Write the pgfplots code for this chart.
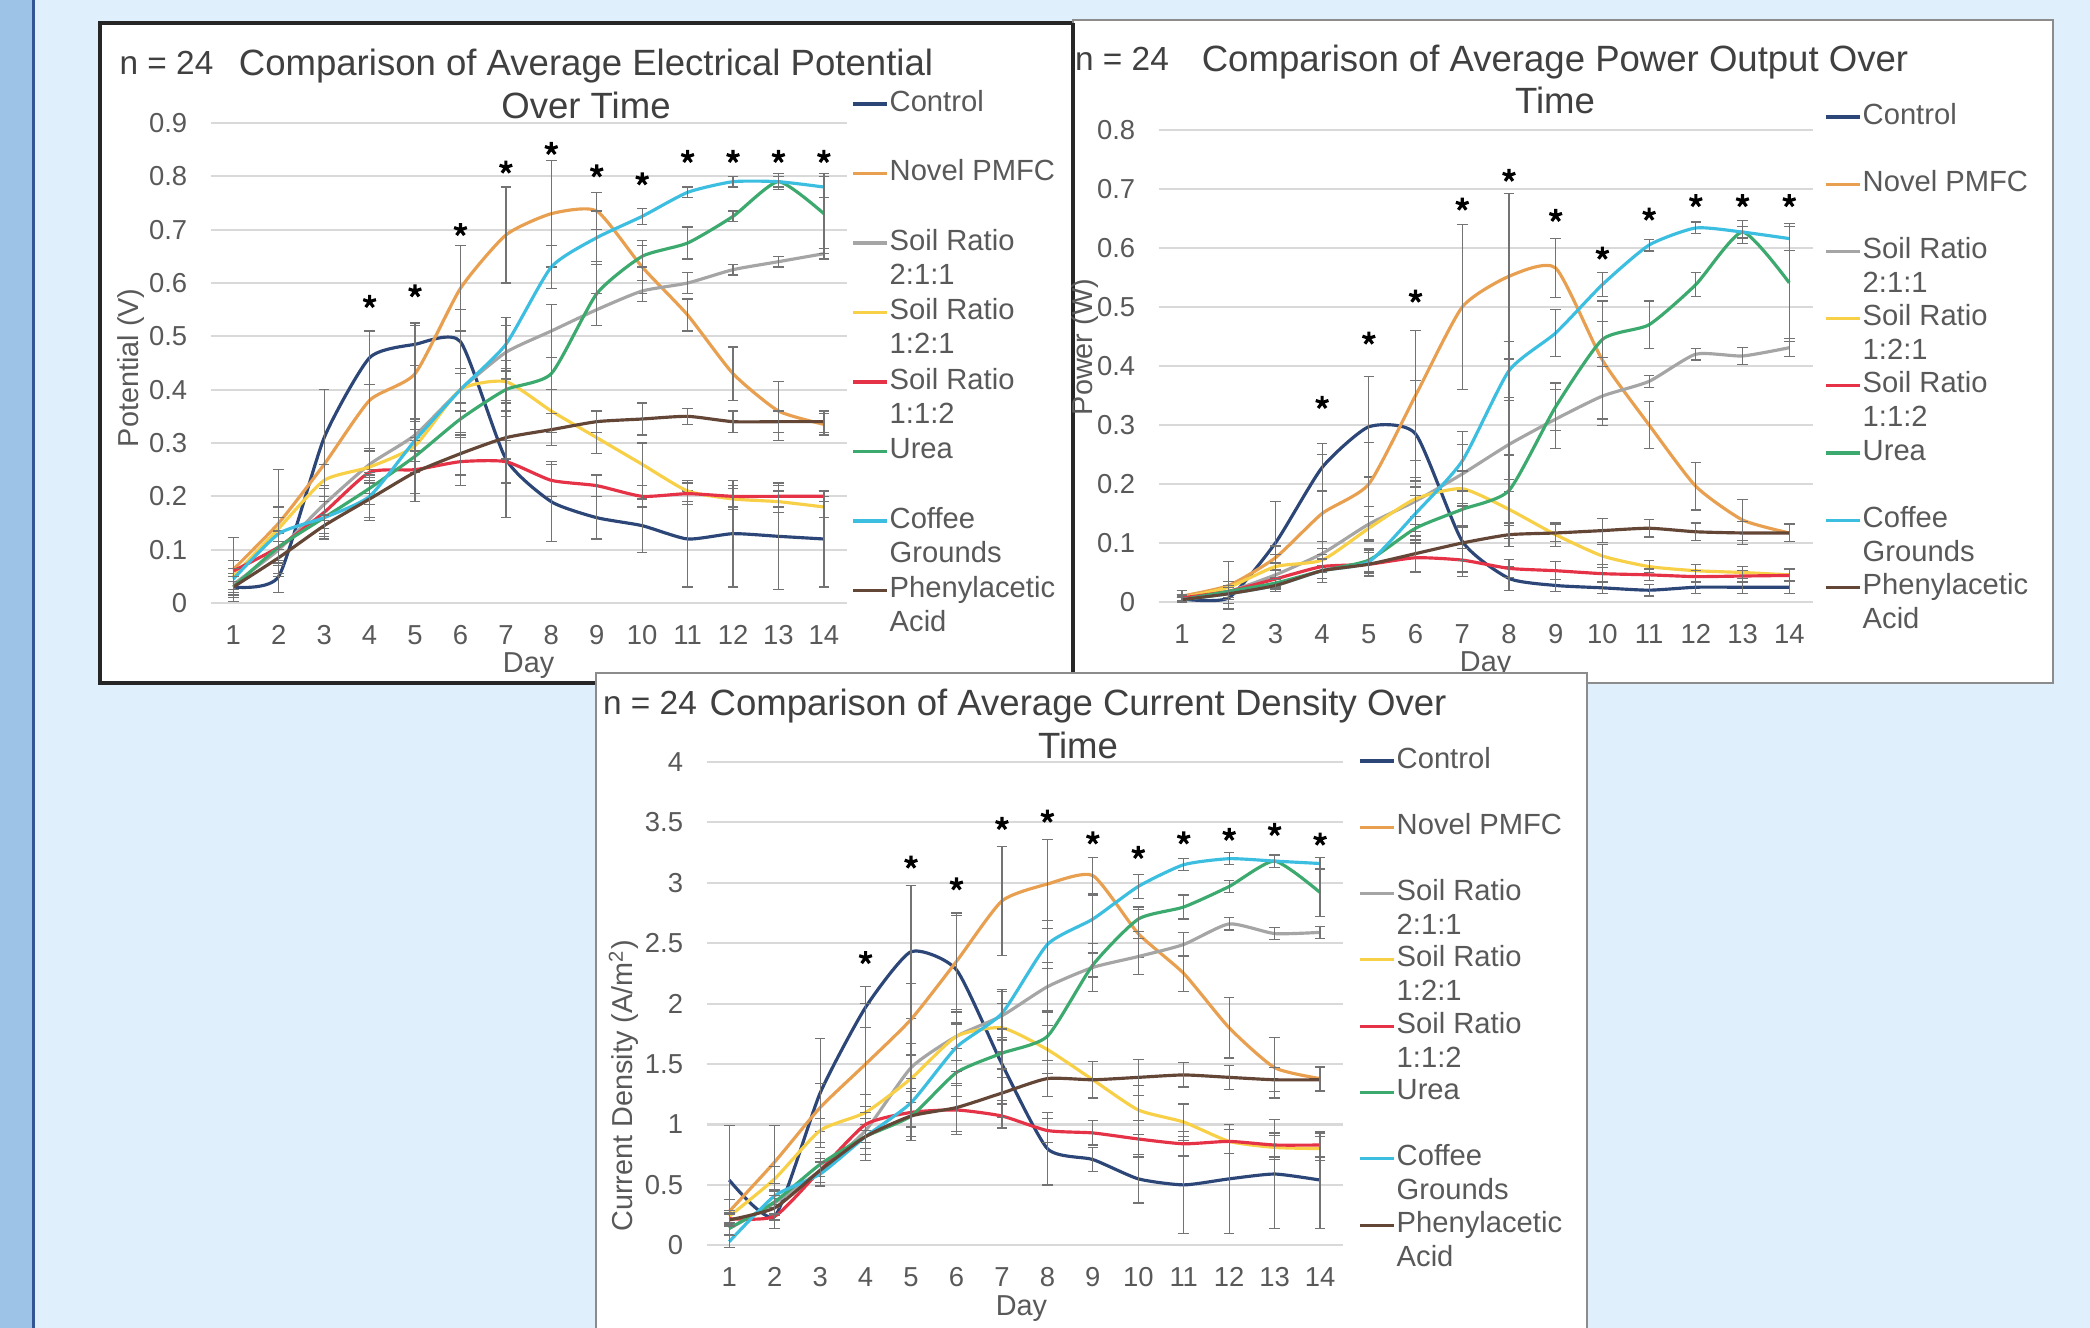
\documentclass[border=0pt]{standalone}
\usepackage{pgfplots}
\pgfplotsset{compat=1.18}
\usepackage{pgfplotstable}
\usepackage{fontspec}
\setmainfont{Liberation Sans}

\definecolor{bgc}{RGB}{223,240,252}
\definecolor{stripc}{RGB}{157,195,230}
\definecolor{stripl}{RGB}{50,85,150}
\definecolor{gridc}{RGB}{217,217,217}
\definecolor{txtc}{RGB}{89,89,89}
\definecolor{ttlc}{RGB}{64,64,64}
\definecolor{cCtl}{RGB}{44,70,120}
\definecolor{cNov}{RGB}{232,160,80}
\definecolor{cS1}{RGB}{165,165,165}
\definecolor{cS2}{RGB}{248,208,72}
\definecolor{cS3}{RGB}{230,50,70}
\definecolor{cU}{RGB}{60,170,110}
\definecolor{cCf}{RGB}{60,190,225}
\definecolor{cPh}{RGB}{100,70,55}

% Potential (V)
\pgfplotstableread{
d c ce n ne a ae b be r re u ue f fe p pe st
1 0.03 0.02 0.063 0.06 0.035 0.02 0.05 0.03 0.06 0.02 0.03 0.02 0.045 0.02 0.03 0.02 nan
2 0.05 0.03 0.15 0.10 0.10 0.03 0.14 0.04 0.105 0.03 0.105 0.03 0.13 0.03 0.085 0.03 nan
3 0.31 0.09 0.26 0.14 0.185 0.03 0.23 0.03 0.17 0.03 0.16 0.03 0.16 0.03 0.145 0.02 nan
4 0.46 0.05 0.38 0.13 0.26 0.03 0.255 0.03 0.245 0.04 0.215 0.03 0.20 0.04 0.195 0.04 0.565
5 0.485 0.04 0.43 0.09 0.315 0.03 0.295 0.03 0.25 0.06 0.275 0.03 0.305 0.04 0.245 0.04 0.585
6 0.49 0.06 0.59 0.08 0.40 0.04 0.40 0.04 0.265 0.045 0.345 0.03 0.40 0.04 0.28 0.04 0.70
7 0.27 0.11 0.69 0.09 0.47 0.05 0.415 0.04 0.265 0.04 0.40 0.04 0.485 0.05 0.31 0.04 0.817
8 0.19 0.075 0.73 0.10 0.51 0.05 0.36 0.04 0.23 0.03 0.43 0.03 0.63 0.04 0.325 0.03 0.852
9 0.16 0.04 0.735 0.035 0.55 0.03 0.31 0.03 0.22 0.02 0.58 0.06 0.685 0.05 0.34 0.02 0.81
10 0.145 0.05 0.63 0.05 0.585 0.02 0.26 0.04 0.20 0.02 0.65 0.02 0.725 0.015 0.345 0.03 0.795
11 0.12 0.09 0.54 0.03 0.60 0.02 0.21 0.02 0.205 0.02 0.675 0.03 0.77 0.01 0.35 0.015 0.837
12 0.13 0.10 0.43 0.05 0.625 0.01 0.195 0.02 0.20 0.02 0.725 0.01 0.79 0.01 0.34 0.02 0.837
13 0.125 0.10 0.36 0.055 0.64 0.01 0.19 0.02 0.20 0.02 0.79 0.015 0.79 0.01 0.34 0.02 0.837
14 0.12 0.09 0.335 0.02 0.655 0.01 0.18 0.02 0.20 0.01 0.73 0.075 0.78 0.02 0.34 0.02 0.837
}\tA

% Power (W)
\pgfplotstableread{
d c ce n ne a ae b be r re u ue f fe p pe st
1 0.005 0.005 0.01 0.01 0.007 0.005 0.007 0.005 0.007 0.005 0.004 0.004 0.004 0.004 0.004 0.004 nan
2 0.007 0.01 0.028 0.04 0.018 0.01 0.025 0.01 0.018 0.01 0.018 0.01 0.014 0.01 0.014 0.01 nan
3 0.10 0.07 0.075 0.02 0.046 0.02 0.06 0.02 0.039 0.015 0.032 0.01 0.028 0.01 0.028 0.01 nan
4 0.228 0.04 0.15 0.10 0.082 0.02 0.071 0.02 0.06 0.02 0.053 0.02 0.053 0.02 0.053 0.02 0.338
5 0.297 0.085 0.20 0.07 0.132 0.03 0.125 0.02 0.064 0.02 0.071 0.02 0.068 0.02 0.064 0.02 0.447
6 0.285 0.09 0.35 0.11 0.171 0.04 0.175 0.03 0.075 0.025 0.125 0.02 0.15 0.03 0.082 0.03 0.518
7 0.103 0.06 0.50 0.14 0.217 0.05 0.192 0.03 0.071 0.02 0.157 0.03 0.239 0.05 0.10 0.03 0.674
8 0.04 0.02 0.552 0.14 0.267 0.08 0.157 0.05 0.057 0.015 0.189 0.06 0.392 0.05 0.114 0.02 0.723
9 0.028 0.01 0.566 0.05 0.31 0.05 0.114 0.02 0.053 0.015 0.331 0.04 0.456 0.04 0.117 0.015 0.655
10 0.024 0.01 0.41 0.10 0.349 0.05 0.078 0.02 0.048 0.015 0.445 0.03 0.538 0.02 0.121 0.02 0.591
11 0.02 0.01 0.30 0.04 0.374 0.01 0.06 0.01 0.046 0.01 0.47 0.04 0.605 0.01 0.125 0.015 0.657
12 0.025 0.01 0.196 0.04 0.42 0.01 0.053 0.01 0.043 0.01 0.538 0.02 0.634 0.01 0.119 0.015 0.68
13 0.025 0.01 0.139 0.035 0.417 0.015 0.05 0.01 0.044 0.01 0.627 0.02 0.627 0.01 0.117 0.02 0.68
14 0.025 0.01 0.117 0.015 0.431 0.015 0.046 0.01 0.045 0.01 0.541 0.10 0.616 0.02 0.117 0.015 0.68
}\tB

% Current density (A/m2)
\pgfplotstableread{
d c ce n ne a ae b be r re u ue f fe p pe st
1 0.54 0.45 0.28 0.10 0.14 0.05 0.24 0.05 0.22 0.05 0.14 0.05 0.03 0.05 0.21 0.05 nan
2 0.24 0.10 0.69 0.30 0.35 0.10 0.55 0.10 0.24 0.10 0.36 0.10 0.41 0.10 0.31 0.10 nan
3 1.26 0.45 1.14 0.20 0.62 0.10 0.95 0.10 0.62 0.10 0.67 0.10 0.59 0.10 0.62 0.10 nan
4 1.97 0.17 1.50 0.50 0.95 0.15 1.10 0.15 1.00 0.15 0.90 0.15 0.90 0.15 0.90 0.20 2.38
5 2.43 0.55 1.87 0.30 1.47 0.20 1.38 0.20 1.10 0.20 1.07 0.20 1.18 0.20 1.07 0.20 3.17
6 2.28 0.45 2.35 0.40 1.73 0.20 1.73 0.20 1.12 0.20 1.43 0.20 1.64 0.20 1.14 0.20 2.99
7 1.50 0.30 2.85 0.45 1.90 0.20 1.80 0.20 1.07 0.10 1.59 0.20 1.92 0.20 1.26 0.20 3.49
8 0.80 0.30 2.99 0.37 2.14 0.20 1.62 0.20 0.95 0.10 1.73 0.20 2.49 0.20 1.38 0.15 3.55
9 0.71 0.10 3.06 0.15 2.30 0.20 1.37 0.15 0.93 0.10 2.32 0.10 2.70 0.20 1.37 0.15 3.37
10 0.55 0.20 2.58 0.20 2.39 0.15 1.12 0.20 0.88 0.15 2.70 0.10 2.97 0.10 1.39 0.15 3.25
11 0.50 0.40 2.25 0.15 2.49 0.10 1.02 0.15 0.84 0.10 2.80 0.10 3.15 0.05 1.41 0.10 3.37
12 0.55 0.45 1.80 0.25 2.66 0.05 0.86 0.10 0.86 0.10 2.97 0.05 3.20 0.05 1.39 0.10 3.40
13 0.59 0.45 1.47 0.25 2.58 0.05 0.81 0.10 0.83 0.10 3.18 0.05 3.18 0.05 1.37 0.10 3.44
14 0.54 0.40 1.38 0.10 2.59 0.05 0.80 0.10 0.83 0.10 2.92 0.20 3.16 0.05 1.37 0.10 3.36
}\tC

\pgfplotsset{
  pan/.style={scale only axis, anchor=south west, xmin=0.5, xmax=14.5,
    xtick={1,2,3,4,5,6,7,8,9,10,11,12,13,14}, ymin=0,
    axis line style={draw=none}, tick style={draw=none}, major tick length=0pt,
    ymajorgrids, grid style={draw=gridc, line width=0.6pt},
    tick label style={font=\fontsize{7.8}{9}\selectfont, text=txtc},
    label style={font=\fontsize{8.2}{10}\selectfont, text=txtc},
    /pgf/number format/assume math mode=true,
    yticklabel style={xshift=-1.1mm, /pgf/number format/fixed},
    xticklabel style={yshift=-1.0mm},
    clip=false},
  ser/.style={line width=0.9pt, smooth, tension=0.35, mark=none},
  eb/.style={error bars/y dir=both, error bars/y explicit,
    error bars/error bar style={line width=0.35pt, draw=black!55},
    error bars/error mark options={rotate=90, mark size=1.5pt, line width=0.35pt, draw=black!55}},
  stars/.style={only marks, mark=star, mark size=1.9pt, black, line width=0.9pt},
}

\newcommand{\drawlegend}[3]{%
  \foreach \col/\la/\lb [count=\i from 0] in {cCtl/Control/{}, cNov/Novel PMFC/{}, cS1/Soil Ratio/2:1:1, cS2/Soil Ratio/1:2:1, cS3/Soil Ratio/1:1:2, cU/Urea/{}, cCf/Coffee/Grounds, cPh/Phenylacetic/Acid}{%
    \pgfmathsetmacro\yy{(1328-(#2+\i*#3))/100}
    \draw[color=\col, line width=0.9pt] (#1,\yy) -- ++(0.34,0);
    \node[anchor=west, inner sep=0pt, text=txtc, font=\fontsize{8.3}{10}\selectfont] at (#1+0.36,\yy) {\strut\la};
    \node[anchor=west, inner sep=0pt, text=txtc, font=\fontsize{8.3}{10}\selectfont] at (#1+0.36,\yy-0.34) {\strut\lb};
  }%
}

\newcommand{\allplots}[1]{%
  \addplot[cCtl, ser, eb] table[x=d, y=c, y error=ce]{#1};
  \addplot[cNov, ser, eb] table[x=d, y=n, y error=ne]{#1};
  \addplot[cS1, ser, eb] table[x=d, y=a, y error=ae]{#1};
  \addplot[cS2, ser, eb] table[x=d, y=b, y error=be]{#1};
  \addplot[cS3, ser, eb] table[x=d, y=r, y error=re]{#1};
  \addplot[cU, ser, eb] table[x=d, y=u, y error=ue]{#1};
  \addplot[cCf, ser, eb] table[x=d, y=f, y error=fe]{#1};
  \addplot[cPh, ser, eb] table[x=d, y=p, y error=pe]{#1};
  \addplot[stars] table[x=d, y=st]{#1};
}

\begin{document}
\begin{tikzpicture}
\path[use as bounding box] (0,0) rectangle (20.9,13.28);
\fill[bgc] (0,0) rectangle (20.9,13.28);
\fill[stripc] (0,0) rectangle (0.32,13.28);
\fill[stripl] (0.32,0) rectangle (0.35,13.28);

% panel 1
\fill[white] (1.00,6.45) rectangle (10.73,13.05);
\draw[black!85, line width=1.3pt] (1.00,6.45) rectangle (10.73,13.05);
% panel 2
\fill[white] (10.73,6.45) rectangle (20.53,13.08);
\draw[black!45, line width=0.8pt] (10.73,6.45) rectangle (20.53,13.08);
\draw[black!85, line width=1.3pt] (10.73,6.45) -- (10.73,13.05);

% chart 1
\begin{axis}[pan, at={(2.106cm,7.25cm)}, width=6.36cm, height=4.80cm, ymax=0.9,
  ytick={0,0.1,0.2,0.3,0.4,0.5,0.6,0.7,0.8,0.9},
  xlabel={Day}, ylabel={Potential (V)},
  xlabel style={at={(axis description cs:0.5,-0.13)}, anchor=center},
  ylabel style={at={(axis description cs:-0.125,0.49)}, anchor=center}]
\allplots{\tA}
\end{axis}
\node[text=ttlc, font=\fontsize{9.5}{12}\selectfont] at (1.665,12.65) {n = 24};
\node[text=ttlc, font=\fontsize{10.4}{12}\selectfont, align=center] at (5.86,12.44) {Comparison of Average Electrical Potential\\Over Time};
\drawlegend{8.53}{104}{69.5}

% chart 2
\begin{axis}[pan, at={(11.586cm,7.26cm)}, width=6.54cm, height=4.72cm, ymax=0.8,
  ytick={0,0.1,0.2,0.3,0.4,0.5,0.6,0.7,0.8},
  xlabel={Day}, ylabel={Power (W)},
  xlabel style={at={(axis description cs:0.5,-0.132)}, anchor=center},
  ylabel style={at={(axis description cs:-0.113,0.54)}, anchor=center}]
\allplots{\tB}
\end{axis}
\node[text=ttlc, font=\fontsize{9.5}{12}\selectfont] at (11.22,12.69) {n = 24};
\node[text=ttlc, font=\fontsize{10.4}{12}\selectfont, align=center] at (15.55,12.485) {Comparison of Average Power Output Over\\Time};
\drawlegend{18.26}{117}{67.2}

% panel 3
\fill[white] (5.96,0) rectangle (15.87,6.55);
\draw[black!45, line width=0.8pt] (5.96,-0.1) -- (5.96,6.55) -- (15.87,6.55) -- (15.87,-0.1);

% chart 3
\begin{axis}[pan, at={(7.065cm,0.827cm)}, width=6.363cm, height=4.833cm, ymax=4,
  ytick={0,0.5,1,1.5,2,2.5,3,3.5,4},
  xlabel={Day}, ylabel={Current Density (A/m\textsuperscript{2})},
  xlabel style={at={(axis description cs:0.495,-0.13)}, anchor=center},
  ylabel style={at={(axis description cs:-0.13,0.33)}, anchor=center}]
\allplots{\tC}
\end{axis}
\node[text=ttlc, font=\fontsize{9.5}{12}\selectfont] at (6.50,6.25) {n = 24};
\node[text=ttlc, font=\fontsize{10.4}{12}\selectfont, align=center] at (10.78,6.04) {Comparison of Average Current Density Over\\Time};
\drawlegend{13.60}{761}{66.3}
\end{tikzpicture}
\end{document}
